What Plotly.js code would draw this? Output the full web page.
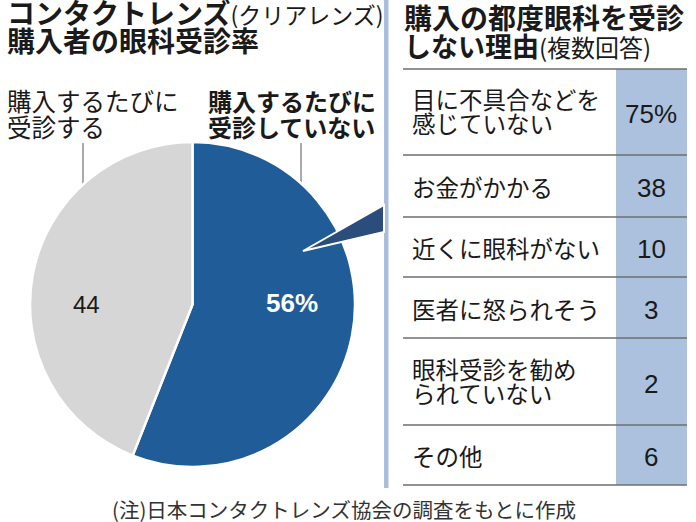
<!DOCTYPE html>
<html>
<head>
<meta charset="utf-8">
<script src="https://cdn.plot.ly/plotly-3.0.1.min.js"></script>
<style>html,body{margin:0;padding:0;background:#fff;}#chart{width:696px;height:522px;}</style>
</head>
<body>
<div id="chart"></div>
<script>
// ---- data ----
const pieLabels = ['購入するたびに受診していない', '購入するたびに受診する'];
const pieValues = [56, 44];
const pieLabelLines = [['購入するたびに', '受診していない'], ['購入するたびに', '受診する']];
const reasons = [
  '目に不具合などを\n感じていない',
  'お金がかかる',
  '近くに眼科がない',
  '医者に怒られそう',
  '眼科受診を勧め\nられていない',
  'その他'
];
const reasonValues = [75, 38, 10, 3, 2, 6];
const titleLeft = ['コンタクトレンズ', '(クリアレンズ)', '購入者の眼科受診率'];
const titleRight = ['購入の都度眼科を受診', 'しない理由', '(複数回答)'];
const note = '(注)日本コンタクトレンズ協会の調査をもとに作成';

// ---- layout helpers ----
const W = 696, H = 522;
const X = p => p / W;
const Y = p => 1 - p / H;
const JP = "'Noto Sans CJK JP', 'Noto Sans', sans-serif";
const NUM = "'Liberation Sans', Arial, sans-serif";
const ink = '#1a1a1a';

const annotations = [];
const shapes = [];
function txt(x, y, text, size, opts) {
  annotations.push(Object.assign({
    xref: 'paper', yref: 'paper', x: X(x), y: Y(y), text: text,
    showarrow: false, xanchor: 'left', yanchor: 'middle',
    font: {family: JP, size: size, color: ink}
  }, opts || {}));
}

// titles
txt(5, 12, '<b>' + titleLeft[0] + '</b><span style="font-size:23px">' + titleLeft[1] + '</span>', 28);
txt(5, 40, '<b>' + titleLeft[2] + '</b>', 28);
txt(402, 17, '<b>' + titleRight[0] + '</b>', 28);
txt(402, 45, '<b>' + titleRight[1] + '</b><span style="font-size:24px">' + titleRight[2] + '</span>', 27);

// pie labels
txt(5, 100, pieLabelLines[1][0], 24.5);
txt(5, 126, pieLabelLines[1][1], 24.5);
txt(206, 100, '<b>' + pieLabelLines[0][0] + '</b>', 24);
txt(206, 126, '<b>' + pieLabelLines[0][1] + '</b>', 24);

// in-pie values
txt(292, 303, '<b>' + pieValues[0] + '%</b>', 26, {xanchor: 'center', font: {family: NUM, size: 26, color: '#ffffff'}});
txt(86, 304, String(pieValues[1]), 24, {xanchor: 'center', font: {family: NUM, size: 24, color: ink}});

// leader lines
shapes.push({type: 'line', xref: 'paper', yref: 'paper', x0: X(83), x1: X(83), y0: Y(143), y1: Y(185), line: {color: '#555', width: 1}, layer: 'below'});
shapes.push({type: 'line', xref: 'paper', yref: 'paper', x0: X(301), x1: X(301), y0: Y(143), y1: Y(184), line: {color: '#555', width: 1}, layer: 'below'});

// vertical divider
shapes.push({type: 'rect', xref: 'paper', yref: 'paper', x0: X(384), x1: X(388.5), y0: Y(0), y1: Y(488), line: {width: 0}, fillcolor: '#a9bedb'});

// table
const rowEdges = [69, 155, 217, 277, 338, 425, 485];
shapes.push({type: 'rect', xref: 'paper', yref: 'paper', x0: X(616), x1: X(687), y0: Y(rowEdges[0]), y1: Y(rowEdges[rowEdges.length - 1]), line: {width: 0}, fillcolor: '#abc1de'});
rowEdges.forEach(e => {
  shapes.push({type: 'line', xref: 'paper', yref: 'paper', x0: X(403), x1: X(687), y0: Y(e), y1: Y(e), line: {color: '#6e6e6e', width: 1.5}});
});
reasons.forEach((r, i) => {
  const top = rowEdges[i], bot = rowEdges[i + 1];
  const mid = (top + bot) / 2;
  const lines = r.split('\n');
  if (lines.length === 1) {
    txt(410, mid + 1, lines[0], 23.5);
  } else {
    txt(410, mid - 13, lines[0], 23.5);
    txt(410, mid + 11, lines[1], 23.5);
  }
  txt(651, mid + 2, reasonValues[i] + (i === 0 ? '%' : ''), 26, {xanchor: 'center', font: {family: NUM, size: 26, color: ink}});
});

// callout wedge
shapes.push({type: 'path', xref: 'paper', yref: 'paper',
  path: 'M ' + X(303) + ' ' + Y(251) + ' L ' + X(384) + ' ' + Y(205) + ' L ' + X(384) + ' ' + Y(232) + ' Z',
  fillcolor: '#2b4d7b', line: {color: '#ffffff', width: 2}});

// footnote
txt(344, 509, note, 20.5, {xanchor: 'center', font: {family: JP, size: 20.5, color: '#333'}});

const data = [{
  type: 'pie',
  labels: pieLabels,
  values: pieValues,
  sort: false,
  direction: 'clockwise',
  rotation: 0,
  hole: 0,
  textinfo: 'none',
  hoverinfo: 'none',
  showlegend: false,
  marker: {colors: ['#1f5c98', '#d6d6d6'], line: {color: '#ffffff', width: 2.5}},
  domain: {x: [X(30), X(355)], y: [Y(467), Y(142)]}
}];

const layout = {
  width: W, height: H,
  margin: {l: 0, r: 0, t: 0, b: 0},
  paper_bgcolor: '#ffffff',
  plot_bgcolor: '#ffffff',
  showlegend: false,
  annotations: annotations,
  shapes: shapes,
  font: {family: JP}
};

Plotly.newPlot('chart', data, layout, {displayModeBar: false, staticPlot: true});
</script>
</body>
</html>
